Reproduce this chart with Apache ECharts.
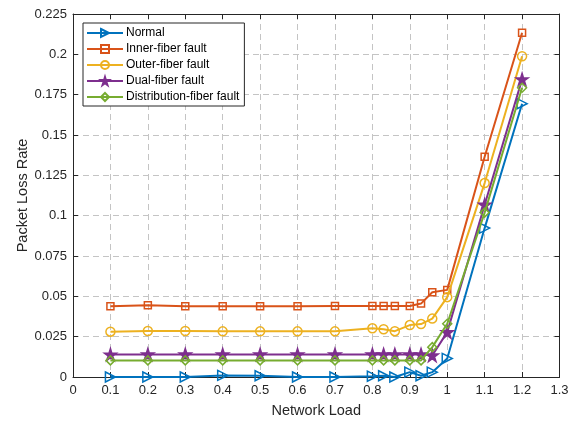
<!DOCTYPE html>
<html>
<head>
<meta charset="utf-8">
<script src="https://cdn.jsdelivr.net/npm/echarts@6/dist/echarts.min.js"></script>
<style>html,body{margin:0;padding:0;background:#fff;}#c{width:579px;height:423px;}</style>
</head>
<body>
<div id="c"></div>
<script>
var xLoad = [0.1,0.2,0.3,0.4,0.5,0.6,0.7,0.8,0.83,0.86,0.9,0.93,0.96,1.0,1.1,1.2];
var normal = [0,0,0,0.001,0.0008,0,0,0.0005,0.0008,0,0.003,0.0008,0.003,0.0115,0.0923,0.1694];
var innerFiber = [0.0438,0.0445,0.0438,0.0438,0.0438,0.0438,0.0440,0.0440,0.0440,0.0440,0.0440,0.0455,0.0525,0.0540,0.1365,0.2134];
var outerFiber = [0.0281,0.0285,0.0285,0.0283,0.0283,0.0283,0.0283,0.0302,0.0296,0.0284,0.0322,0.0328,0.0362,0.0495,0.1202,0.1988];
var dualFiber = [0.0139,0.0140,0.0140,0.0140,0.0140,0.0140,0.0140,0.0140,0.0140,0.0140,0.0140,0.0140,0.0133,0.0278,0.1068,0.1845];
var distFiber = [0.0103,0.0103,0.0103,0.0103,0.0103,0.0103,0.0103,0.0103,0.0103,0.0103,0.0103,0.0103,0.0185,0.0330,0.1019,0.1793];
var seriesNames = ['Normal','Inner-fiber fault','Outer-fiber fault','Dual-fiber fault','Distribution-fiber fault'];
var xTicks = {min:0, max:1.3, step:0.1};
var yTicks = {min:0, max:0.225, step:0.025};

var colors = ['#0072BD','#D95319','#EDB120','#7E2F8E','#77AC30'];
var starPath = 'path://M50,0 L61.8,36.2 L100,36.2 L69.1,58.6 L80.9,95.1 L50,72.6 L19.1,95.1 L30.9,58.6 L0,36.2 L38.2,36.2 Z';
var symbols = ['path://M0,0L10,5L0,10Z','rect','circle',starPath,'diamond'];
var sizes = [10,7,9,12,9];
var fills = ['rgba(255,255,255,0)','rgba(255,255,255,0)','rgba(255,255,255,0)',colors[3],'rgba(255,255,255,0)'];
var dataSets = [normal, innerFiber, outerFiber, dualFiber, distFiber];

function pair(xs, ys){ return xs.map(function(x,i){ return [x, ys[i]]; }); }
function fmt(v){ return String(parseFloat(v.toFixed(4))); }

var font = 'Liberation Sans, Arial, Helvetica, sans-serif';
var axisColor = '#262626';
var gridLine = {show:true, lineStyle:{color:'#c4c4c4', type:[6,4], width:1}};

var series = dataSets.map(function(d, i){
  return {
    name: seriesNames[i], type:'line', data: pair(xLoad, d),
    symbol: symbols[i], symbolSize: sizes[i], showAllSymbol: true,
    color: colors[i],
    lineStyle:{color: colors[i], width:2},
    itemStyle:{color: fills[i], borderColor: colors[i], borderWidth: 1.5},
    emphasis:{disabled:true}, z: 2 + i
  };
});

var chart = echarts.init(document.getElementById('c'), null, {renderer:'canvas'});
chart.setOption({
  animation:false,
  backgroundColor:'#fff',
  grid:{left:73, right:19.5, top:14, bottom:46, containLabel:false},
  legend:{
    orient:'vertical', left:83, top:23, data: seriesNames,
    itemWidth:36, itemHeight:10, itemGap:4,
    padding:[4,5,3,3],
    backgroundColor:'#fff', borderColor:'#262626', borderWidth:1,
    textStyle:{fontFamily:font, fontSize:12, color:'#000', padding:[0,0,0,-2]},
    z: 20
  },
  xAxis:[{
    type:'value', min:xTicks.min, max:xTicks.max, interval:xTicks.step, position:'bottom',
    name:'Network Load', nameLocation:'middle', nameGap:26,
    nameTextStyle:{fontFamily:font, fontSize:14.5, color:axisColor},
    axisLine:{show:true, onZero:false, lineStyle:{color:axisColor, width:1}},
    axisTick:{show:true, inside:true, length:5, lineStyle:{color:axisColor}},
    axisLabel:{fontFamily:font, fontSize:13, color:axisColor, margin:7, formatter:fmt},
    splitLine:gridLine
  },{
    type:'value', min:xTicks.min, max:xTicks.max, interval:xTicks.step, position:'top',
    axisLine:{show:true, onZero:false, lineStyle:{color:axisColor, width:1}},
    axisTick:{show:true, inside:true, length:5, lineStyle:{color:axisColor}},
    axisLabel:{show:false}, splitLine:{show:false}
  }],
  yAxis:[{
    type:'value', min:yTicks.min, max:yTicks.max, interval:yTicks.step, position:'left',
    name:'Packet Loss Rate', nameLocation:'middle', nameGap:43, nameMoveOverlap:false,
    nameTextStyle:{fontFamily:font, fontSize:14.5, color:axisColor},
    axisLine:{show:true, onZero:false, lineStyle:{color:axisColor, width:1}},
    axisTick:{show:true, inside:true, length:5, lineStyle:{color:axisColor}},
    axisLabel:{fontFamily:font, fontSize:13, color:axisColor, margin:6, formatter:fmt},
    splitLine:gridLine
  },{
    type:'value', min:yTicks.min, max:yTicks.max, interval:yTicks.step, position:'right',
    axisLine:{show:true, onZero:false, lineStyle:{color:axisColor, width:1}},
    axisTick:{show:true, inside:true, length:5, lineStyle:{color:axisColor}},
    axisLabel:{show:false}, splitLine:{show:false}
  }],
  series: series
});
</script>
</body>
</html>
